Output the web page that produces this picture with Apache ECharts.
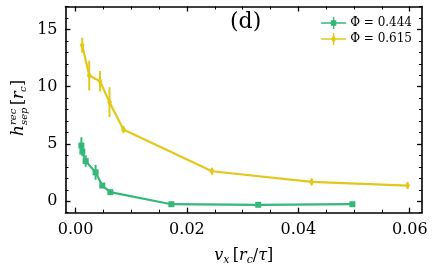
<!DOCTYPE html>
<html><head><meta charset="utf-8">
<script src="https://cdn.jsdelivr.net/npm/echarts@6/dist/echarts.min.js"></script>
<style>html,body{margin:0;padding:0;background:#fff}#c{width:436px;height:272px}</style>
</head><body><div id="c"></div>
<script>
// ---- data ----
const seriesNames = ['Φ = 0.444', 'Φ = 0.615'];
const greenVx  = [0.00105, 0.00123, 0.00182, 0.0036, 0.0048, 0.00625, 0.0172, 0.0328, 0.0497];
const greenH   = [4.86, 4.34, 3.51, 2.52, 1.37, 0.79, -0.26, -0.31, -0.26];
const greenErr = [0.72, 0.4, 0.5, 0.65, 0.2, 0.15, 0.1, 0.1, 0.1];
const yellowVx  = [0.0012, 0.00246, 0.0044, 0.0061, 0.0086, 0.0245, 0.0424, 0.0596];
const yellowH   = [13.62, 10.98, 10.48, 8.65, 6.26, 2.62, 1.69, 1.37];
const yellowErr = [0.65, 1.3, 0.9, 1.3, 0.3, 0.3, 0.3, 0.3];
const xTickMin = 0, xTickMax = 0.06, xTickStep = 0.02;
const yTickMin = 0, yTickMax = 15, yTickStep = 5;
const XMIN = -0.0018, XMAX = 0.0622, YMIN = -1, YMAX = 17;

// ---- layout ----
const W = 436, H = 272;
const GL = 65.5, GR = 422, GT = 6.5, GB = 212.7;
const GREEN = '#35b779', YELLOW = '#e2c81c';
const FONT = 'DejaVu Serif';
const px = v => GL + (v - XMIN) / (XMAX - XMIN) * (GR - GL);
const py = v => GT + (YMAX - v) / (YMAX - YMIN) * (GB - GT);

const chart = echarts.init(document.getElementById('c'), null, {renderer: 'canvas'});
const zip = (a, b) => a.map((v, i) => [v, b[i]]);
const zip3 = (a, b, c) => a.map((v, i) => [v, b[i], c[i]]);

function errSeries(name, data, color) {
  return {
    name, type: 'custom', xAxisIndex: 0, yAxisIndex: 0, data, z: 3,
    itemStyle: {color},
    renderItem(params, api) {
      const x = api.value(0), y = api.value(1), e = api.value(2);
      const p1 = api.coord([x, y - e]), p2 = api.coord([x, y + e]);
      return {type: 'line', shape: {x1: p1[0], y1: p1[1], x2: p2[0], y2: p2[1]},
              style: {stroke: color, lineWidth: 2}};
    }
  };
}
const tickLabel = {fontFamily: FONT, fontSize: 16, color: '#000'};
const lineAx = {show: true, onZero: false, lineStyle: {color: '#000', width: 1.6}};

const legendGreen = 'path://M0 5.25H25V6.75H0Z M11.8 0H13.2V12H11.8Z M9.8 3.3H15.2V8.7H9.8Z';
const legendYellow = 'path://M0 5.25H25V6.75H0Z M11.8 0H13.2V12H11.8Z M12.5 1.5L15 6L12.5 10.5L10 6Z';

const option = {
  animation: false,
  backgroundColor: '#fff',
  title: {text: '(d)', left: 230, top: 11, padding: 0,
    textStyle: {fontFamily: FONT, fontSize: 22, fontWeight: 'normal', color: '#000'}},
  legend: {
    orient: 'vertical', right: 24, top: 17, padding: 0, itemGap: 4,
    itemWidth: 25, itemHeight: 12,
    textStyle: {fontFamily: FONT, fontSize: 12, color: '#000', padding: [0, 0, 0, -1]},
    data: [{name: seriesNames[0], icon: legendGreen, itemStyle: {color: GREEN}},
           {name: seriesNames[1], icon: legendYellow, itemStyle: {color: YELLOW}}]
  },
  grid: [
    {left: GL, right: W - GR, top: GT, bottom: H - GB},
    {left: px(xTickMin), right: W - px(xTickMax), top: GT, bottom: H - GB},
    {left: GL, right: W - GR, top: py(yTickMax), bottom: H - py(yTickMin)}
  ],
  xAxis: [
    {gridIndex: 0, type: 'value', min: XMIN, max: XMAX, position: 'bottom', axisLine: lineAx,
     axisTick: {show: false}, axisLabel: {show: false}, splitLine: {show: false},
     name: '{i|v}{s|x} {n|[}{i|r}{s|c}{n|/}{i|τ}{n|]}', nameLocation: 'middle', nameGap: 33,
     nameTextStyle: {rich: {
       i: {fontFamily: FONT, fontStyle: 'italic', fontSize: 16, lineHeight: 20, color: '#000'},
       n: {fontFamily: FONT, fontSize: 16, lineHeight: 20, color: '#000'},
       s: {fontFamily: FONT, fontStyle: 'italic', fontSize: 11, lineHeight: 12, verticalAlign: 'bottom', color: '#000'}
     }}},
    {gridIndex: 0, type: 'value', min: XMIN, max: XMAX, position: 'top', axisLine: lineAx,
     axisTick: {show: false}, axisLabel: {show: false}, splitLine: {show: false}},
    {gridIndex: 1, type: 'value', min: xTickMin, max: xTickMax, interval: xTickStep, position: 'bottom',
     axisLine: {show: false, onZero: false}, splitLine: {show: false},
     axisTick: {inside: true, length: 5, lineStyle: {color: '#000', width: 1.3}},
     minorTick: {show: true, splitNumber: 4, length: 3, lineStyle: {color: '#000', width: 1}},
     axisLabel: Object.assign({margin: 9, formatter: v => v.toFixed(2)}, tickLabel)},
    {gridIndex: 1, type: 'value', min: xTickMin, max: xTickMax, interval: xTickStep, position: 'top',
     axisLine: {show: false, onZero: false}, splitLine: {show: false}, axisLabel: {show: false},
     axisTick: {inside: true, length: 5, lineStyle: {color: '#000', width: 1.3}},
     minorTick: {show: true, splitNumber: 4, length: 3, lineStyle: {color: '#000', width: 1}}},
    {gridIndex: 2, type: 'value', show: false, min: 0, max: 1}
  ],
  yAxis: [
    {gridIndex: 0, type: 'value', min: YMIN, max: YMAX, interval: 1, position: 'left', axisLine: lineAx,
     axisTick: {inside: true, length: 3, lineStyle: {color: '#000', width: 1}},
     axisLabel: {show: false}, splitLine: {show: false}},
    {gridIndex: 0, type: 'value', min: YMIN, max: YMAX, interval: 1, position: 'right', axisLine: lineAx,
     axisTick: {inside: true, length: 3, lineStyle: {color: '#000', width: 1}},
     axisLabel: {show: false}, splitLine: {show: false}},
    {gridIndex: 1, type: 'value', show: false, min: 0, max: 1},
    {gridIndex: 2, type: 'value', min: yTickMin, max: yTickMax, interval: yTickStep, position: 'left',
     axisLine: {show: false, onZero: false}, splitLine: {show: false},
     axisTick: {inside: true, length: 5, lineStyle: {color: '#000', width: 1.3}},
     axisLabel: Object.assign({margin: 8}, tickLabel)},
    {gridIndex: 2, type: 'value', min: yTickMin, max: yTickMax, interval: yTickStep, position: 'right',
     axisLine: {show: false, onZero: false}, splitLine: {show: false}, axisLabel: {show: false},
     axisTick: {inside: true, length: 5, lineStyle: {color: '#000', width: 1.3}}}
  ],
  series: [
    {name: seriesNames[0], type: 'line', xAxisIndex: 0, yAxisIndex: 0, data: zip(greenVx, greenH), z: 4,
     symbol: 'rect', symbolSize: 6, lineStyle: {color: GREEN, width: 2.2},
     itemStyle: {color: GREEN, borderWidth: 0}},
    {name: seriesNames[1], type: 'line', xAxisIndex: 0, yAxisIndex: 0, data: zip(yellowVx, yellowH), z: 4,
     symbol: 'diamond', symbolSize: [5, 8], lineStyle: {color: YELLOW, width: 2.2},
     itemStyle: {color: YELLOW, borderWidth: 0}},
    errSeries(seriesNames[0], zip3(greenVx, greenH, greenErr), GREEN),
    errSeries(seriesNames[1], zip3(yellowVx, yellowH, yellowErr), YELLOW)
  ],
  graphic: [{
    type: 'group', x: 19, y: 109, rotation: Math.PI / 2,
    children: [
      {type: 'text', x: -27, y: 0, style: {text: 'h', font: 'italic 17px "DejaVu Serif"', fill: '#000', verticalAlign: 'middle'}},
      {type: 'text', x: -16, y: -6, style: {text: 'rec', font: 'italic 10px "DejaVu Serif"', fill: '#000', verticalAlign: 'middle'}},
      {type: 'text', x: -16, y: 5, style: {text: 'sep', font: 'italic 10px "DejaVu Serif"', fill: '#000', verticalAlign: 'middle'}},
      {type: 'text', x: 4, y: 0, style: {text: '[', font: '16px "DejaVu Serif"', fill: '#000', verticalAlign: 'middle'}},
      {type: 'text', x: 10, y: 0, style: {text: 'r', font: 'italic 16px "DejaVu Serif"', fill: '#000', verticalAlign: 'middle'}},
      {type: 'text', x: 17, y: 4, style: {text: 'c', font: 'italic 10px "DejaVu Serif"', fill: '#000', verticalAlign: 'middle'}},
      {type: 'text', x: 23, y: 0, style: {text: ']', font: '16px "DejaVu Serif"', fill: '#000', verticalAlign: 'middle'}}
    ]
  }]
};
chart.setOption(option);
</script>
</body></html>
